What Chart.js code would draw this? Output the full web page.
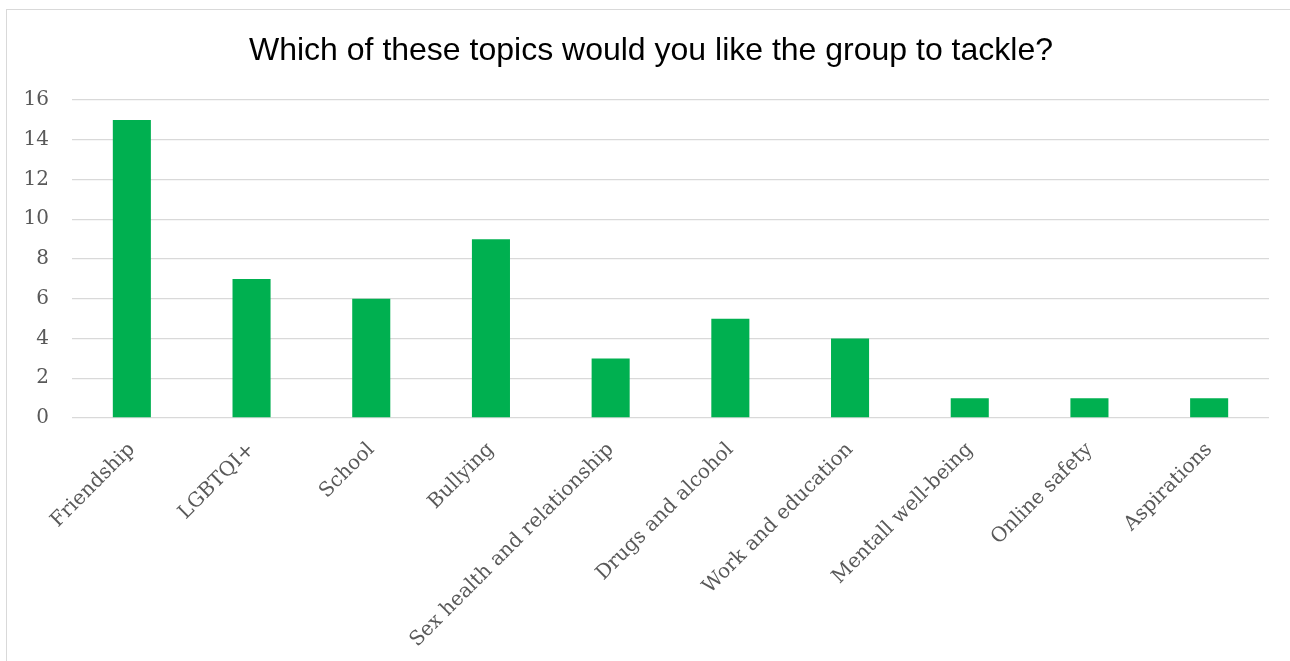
<!DOCTYPE html>
<html>
<head>
<meta charset="utf-8">
<script src="https://cdn.jsdelivr.net/npm/chart.js@4.4.1/dist/chart.umd.min.js"></script>
<style>
  html, body { margin: 0; padding: 0; background: #fff; }
  #wrap { position: relative; width: 1290px; height: 661px; overflow: hidden; }
  #frame { position: absolute; left: 6px; top: 9px; width: 1400px; height: 800px; border: 1px solid #d9d9d9; box-sizing: border-box; }
  canvas { position: absolute; left: 0; top: 0; }
</style>
</head>
<body>
<div id="wrap">
  <div id="frame"></div>
  <canvas id="topicsChart" width="1290" height="661"></canvas>
</div>
<script>
const topics = ['Friendship', 'LGBTQI+', 'School', 'Bullying', 'Sex health and relationship',
  'Drugs and alcohol', 'Work and education', 'Mentall well-being', 'Online safety', 'Aspirations'];
const votes = [15, 7, 6, 9, 3, 5, 4, 1, 1, 1];
const yTicks = [0, 2, 4, 6, 8, 10, 12, 14, 16];

// the title in the original sits a little right of the canvas centre
const shiftTitle = {
  id: 'shiftTitle',
  afterLayout(chart) {
    if (chart.titleBlock) chart.titleBlock.left = 33;
  }
};

const ctx = document.getElementById('topicsChart').getContext('2d');
new Chart(ctx, {
  type: 'bar',
  data: {
    labels: topics,
    datasets: [{
      label: 'Votes',
      data: votes,
      backgroundColor: '#00b050',
      borderWidth: 0,
      categoryPercentage: 1,
      barPercentage: 0.318
    }]
  },
  options: {
    responsive: false,
    animation: false,
    layout: { padding: { top: 10, right: 21, bottom: 0, left: 0 } },
    plugins: {
      legend: { display: false },
      tooltip: { enabled: false },
      title: {
        display: true,
        text: 'Which of these topics would you like the group to tackle?',
        color: '#000',
        font: { family: 'Liberation Sans', size: 32, weight: 'normal' },
        padding: { top: 22, bottom: 29.6 }
      }
    },
    scales: {
      x: {
        grid: { display: false },
        border: { display: false },
        ticks: {
          color: '#595959',
          font: { family: 'DejaVu Serif', size: 20 },
          minRotation: 45,
          maxRotation: 45,
          padding: 12,
          autoSkip: false
        },
        afterFit(scale) { scale.height = 243; }
      },
      y: {
        min: 0,
        max: 16,
        afterBuildTicks(scale) { scale.ticks = yTicks.map(v => ({ value: v })); },
        grid: { color: '#d9d9d9', lineWidth: 1.3, drawTicks: false },
        border: { display: false },
        ticks: {
          color: '#595959',
          font: { family: 'DejaVu Serif', size: 20 },
          padding: 23
        },
        afterFit(scale) { scale.width = 72; }
      }
    }
  },
  plugins: [shiftTitle]
});
</script>
</body>
</html>
